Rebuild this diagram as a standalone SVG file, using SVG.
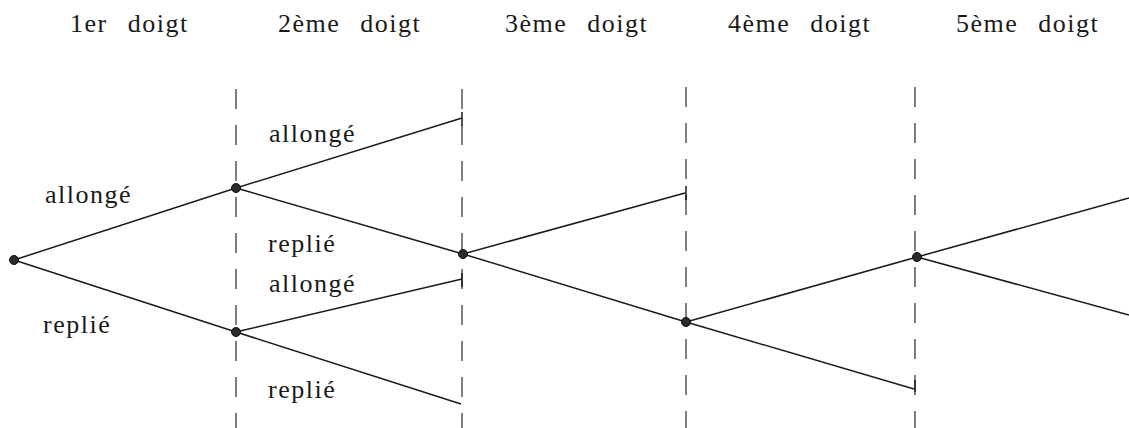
<svg xmlns="http://www.w3.org/2000/svg" width="1129" height="428" viewBox="0 0 1129 428">
<style>
text{font-family:"Liberation Serif",serif;font-size:26px;fill:#1a1a1a;letter-spacing:1.5px;word-spacing:12px}
.guide{stroke:#2a2a2a;stroke-width:1.2;stroke-dasharray:20 16;fill:none}
.edge{stroke:#1a1a1a;stroke-width:1.5;fill:none}
.node{fill:#2a2a2a;stroke:#111;stroke-width:1}
</style>
<rect width="1129" height="428" fill="#fff"/>
<g id="headers" font-family="Liberation Serif">
<text x="70" y="32">1er doigt</text>
<text x="278" y="32">2ème doigt</text>
<text x="505" y="32">3ème doigt</text>
<text x="728" y="32">4ème doigt</text>
<text x="956" y="32">5ème doigt</text>
</g>
<g id="guides">
<line class="guide" x1="236" y1="89" x2="236" y2="428"/>
<line class="guide" x1="462" y1="89" x2="462" y2="428"/>
<line class="guide" x1="686" y1="87" x2="686" y2="428"/>
<line class="guide" x1="915" y1="87" x2="915" y2="428"/>
</g>
<g id="connectors">
<line class="edge" x1="14" y1="260" x2="236" y2="188"/>
<line class="edge" x1="14" y1="260" x2="236" y2="332"/>
<line class="edge" x1="236" y1="188" x2="462" y2="118"/>
<line class="edge" x1="462" y1="112" x2="462" y2="126"/>
<line class="edge" x1="236" y1="188" x2="463" y2="254"/>
<line class="edge" x1="236" y1="332" x2="462" y2="279"/>
<line class="edge" x1="462" y1="273" x2="462" y2="287"/>
<line class="edge" x1="236" y1="332" x2="461" y2="404"/>
<line class="edge" x1="463" y1="254" x2="685" y2="193"/>
<line class="edge" x1="686" y1="186" x2="686" y2="200"/>
<line class="edge" x1="463" y1="254" x2="686" y2="322"/>
<line class="edge" x1="686" y1="322" x2="917" y2="257"/>
<line class="edge" x1="686" y1="322" x2="914" y2="389"/>
<line class="edge" x1="915" y1="380" x2="915" y2="392"/>
<line class="edge" x1="917" y1="257" x2="1129" y2="198"/>
<line class="edge" x1="917" y1="257" x2="1129" y2="315"/>
</g>
<g id="root"><circle class="node" cx="14" cy="260" r="4.5"/></g>
<g id="n1-allonge"><circle class="node" cx="236" cy="188" r="4.5"/></g>
<g id="n1-replie"><circle class="node" cx="236" cy="332" r="4.5"/></g>
<g id="n2"><circle class="node" cx="463" cy="254" r="4.5"/></g>
<g id="n3"><circle class="node" cx="686" cy="322" r="4.5"/></g>
<g id="n4"><circle class="node" cx="917" cy="257" r="4.5"/></g>
<g id="labels" font-family="Liberation Serif">
<text x="45" y="203">allongé</text>
<text x="43" y="333">replié</text>
<text x="269" y="142">allongé</text>
<text x="268" y="252">replié</text>
<text x="269" y="292">allongé</text>
<text x="268" y="398">replié</text>
</g>
</svg>
